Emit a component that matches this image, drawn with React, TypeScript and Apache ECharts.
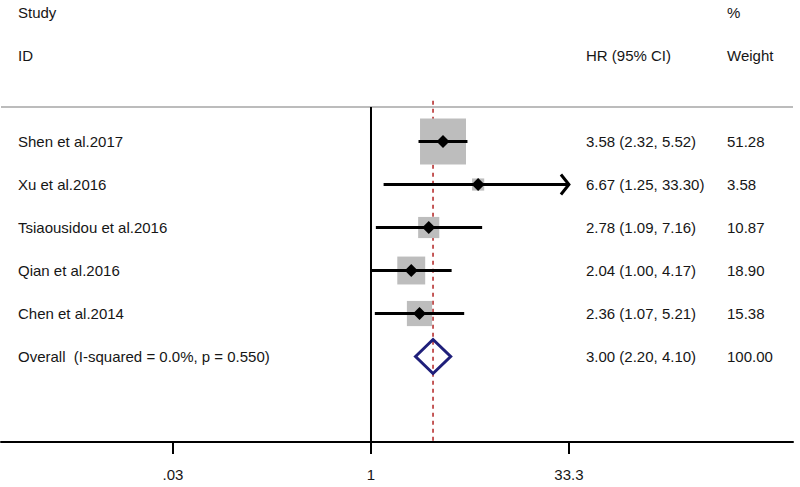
import React, { useEffect, useRef } from "react";
import * as echarts from "echarts";

// ---- data ----
const studyNames = [
  "Shen et al.2017",
  "Xu et al.2016",
  "Tsiaousidou et al.2016",
  "Qian et al.2016",
  "Chen et al.2014",
];
const hrValues = [3.58, 6.67, 2.78, 2.04, 2.36];
const ciLower = [2.32, 1.25, 1.09, 1.0, 1.07];
const ciUpper = [5.52, 33.3, 7.16, 4.17, 5.21];
const weights = [51.28, 3.58, 10.87, 18.9, 15.38];

const overallLabel = "Overall  (I-squared = 0.0%, p = 0.550)";
const overallHR = 3.0;
const overallLower = 2.2;
const overallUpper = 4.1;
const overallWeight = 100.0;

const tickValues = [0.03, 1, 33.3];
const tickLabels = [".03", "1", "33.3"];

const headerTop = ["Study", "", "%"];
const headerBottom = ["ID", "HR (95% CI)", "Weight"];

// ---- layout / style ----
const FONT = "Liberation Sans, Arial, Helvetica, sans-serif";
const TEXT_COLOR = "#161616";
const COL_X = [18, 586, 727];
const X_MIN = -2.846;
const X_MAX = 3.246;
const Y_MIN = -3.291;
const Y_MAX = 6.988;
const RULE_ROW = -0.8;
const DASH_TOP_ROW = -0.95;
const BOX_SCALE = 6.42;

const log10 = (v: number) => Math.log10(v);
const fmt = (v: number) => v.toFixed(2);

export default function App() {
  const ref = useRef<HTMLDivElement>(null);

  useEffect(() => {
    if (!ref.current) return;
    const chart = echarts.init(ref.current, undefined, { renderer: "svg" });

    const nStudies = studyNames.length;
    const overallRow = nStudies;
    const maxTickLog = log10(tickValues[tickValues.length - 1]);

    const studyData = studyNames.map((_, i) => [
      i,
      log10(hrValues[i]),
      log10(ciLower[i]),
      log10(ciUpper[i]),
      weights[i],
    ]);

    const tableRows: { row: number; cols: string[] }[] = [
      { row: -3, cols: headerTop },
      { row: -2, cols: headerBottom },
      ...studyNames.map((name, i) => ({
        row: i,
        cols: [
          name,
          `${fmt(hrValues[i])} (${fmt(ciLower[i])}, ${fmt(ciUpper[i])})`,
          fmt(weights[i]),
        ],
      })),
      {
        row: overallRow,
        cols: [
          overallLabel,
          `${fmt(overallHR)} (${fmt(overallLower)}, ${fmt(overallUpper)})`,
          fmt(overallWeight),
        ],
      },
    ];

    const option: any = {
      animation: false,
      backgroundColor: "#ffffff",
      grid: { left: 1, right: 7, top: 0, bottom: 45, containLabel: false },
      xAxis: {
        type: "value",
        min: X_MIN,
        max: X_MAX,
        splitLine: { show: false },
        axisLine: { show: true, onZero: false, lineStyle: { color: "#000", width: 2 } },
        axisTick: {
          show: true,
          customValues: tickValues.map(log10),
          length: 12,
          lineStyle: { color: "#000", width: 2 },
        },
        axisLabel: {
          show: true,
          customValues: tickValues.map(log10),
          margin: 25,
          fontFamily: FONT,
          fontSize: 15,
          color: TEXT_COLOR,
          formatter: (v: number) => {
            let best = 0;
            let bd = Infinity;
            tickValues.forEach((t, i) => {
              const d = Math.abs(log10(t) - v);
              if (d < bd) {
                bd = d;
                best = i;
              }
            });
            return tickLabels[best];
          },
        },
      },
      yAxis: {
        type: "value",
        inverse: true,
        min: Y_MIN,
        max: Y_MAX,
        show: false,
      },
      series: [
        {
          type: "line",
          silent: true,
          symbol: "none",
          data: [
            [X_MIN, RULE_ROW],
            [X_MAX, RULE_ROW],
          ],
          lineStyle: { color: "#bcbcbc", width: 2 },
          z: 1,
        },
        {
          type: "line",
          silent: true,
          symbol: "none",
          data: [
            [log10(1), RULE_ROW],
            [log10(1), Y_MAX],
          ],
          lineStyle: { color: "#000", width: 2 },
          z: 1,
        },
        {
          type: "line",
          silent: true,
          symbol: "none",
          data: [
            [log10(overallHR), DASH_TOP_ROW],
            [log10(overallHR), Y_MAX],
          ],
          lineStyle: { color: "#b22222", width: 1.5, type: [4, 4] },
          z: 2,
        },
        {
          type: "custom",
          silent: true,
          z: 3,
          data: studyData,
          encode: { x: [1, 2, 3], y: 0 },
          renderItem: (params: any, api: any) => {
            const row = api.value(0);
            const est = api.value(1);
            const lo = api.value(2);
            const hi = api.value(3);
            const w = api.value(4);
            const c = api.coord([est, row]);
            const pLo = api.coord([lo, row]);
            const clipped = hi >= maxTickLog - 1e-9;
            const pHi = api.coord([Math.min(hi, maxTickLog), row]);
            const side = BOX_SCALE * Math.sqrt(w);
            const y = c[1];
            const children: any[] = [
              {
                type: "rect",
                shape: { x: c[0] - side / 2, y: y - side / 2, width: side, height: side },
                style: { fill: "#bdbdbd" },
              },
              {
                type: "line",
                shape: { x1: pLo[0], y1: y, x2: pHi[0], y2: y },
                style: { stroke: "#000", lineWidth: 3 },
              },
            ];
            if (clipped) {
              children.push({
                type: "polyline",
                shape: {
                  points: [
                    [pHi[0] - 8, y - 10],
                    [pHi[0], y],
                    [pHi[0] - 8, y + 10],
                  ],
                },
                style: { stroke: "#000", lineWidth: 3, fill: "none" },
              });
            }
            children.push({
              type: "polygon",
              shape: {
                points: [
                  [c[0] - 6.5, y],
                  [c[0], y - 6.5],
                  [c[0] + 6.5, y],
                  [c[0], y + 6.5],
                ],
              },
              style: { fill: "#000" },
            });
            return { type: "group", children };
          },
        },
        {
          type: "custom",
          silent: true,
          z: 3,
          data: [[overallRow, log10(overallHR), log10(overallLower), log10(overallUpper)]],
          encode: { x: [1, 2, 3], y: 0 },
          renderItem: (params: any, api: any) => {
            const row = api.value(0);
            const c = api.coord([api.value(1), row]);
            const pLo = api.coord([api.value(2), row]);
            const pHi = api.coord([api.value(3), row]);
            const h = 17;
            return {
              type: "polygon",
              shape: {
                points: [
                  [pLo[0], c[1]],
                  [c[0], c[1] - h],
                  [pHi[0], c[1]],
                  [c[0], c[1] + h],
                ],
              },
              style: { fill: "none", stroke: "#1f1f7a", lineWidth: 3 },
            };
          },
        },
        {
          type: "custom",
          silent: true,
          z: 4,
          data: tableRows.map((r) => [0, r.row]),
          encode: { x: 0, y: 1 },
          renderItem: (params: any, api: any) => {
            const r = tableRows[params.dataIndex];
            const y = api.coord([0, api.value(1)])[1];
            return {
              type: "group",
              children: r.cols
                .map((text, ci) => ({ text, ci }))
                .filter((d) => d.text !== "")
                .map((d) => ({
                  type: "text",
                  x: COL_X[d.ci],
                  y,
                  style: {
                    text: d.text,
                    fill: TEXT_COLOR,
                    fontFamily: FONT,
                    fontSize: 15,
                    align: "left",
                    verticalAlign: "middle",
                  },
                })),
            };
          },
        },
      ],
    };

    chart.setOption(option);
    return () => chart.dispose();
  }, []);

  return (
    <div
      ref={ref}
      style={{ position: "absolute", left: 0, top: 0, width: 800, height: 487, background: "#fff" }}
    />
  );
}
